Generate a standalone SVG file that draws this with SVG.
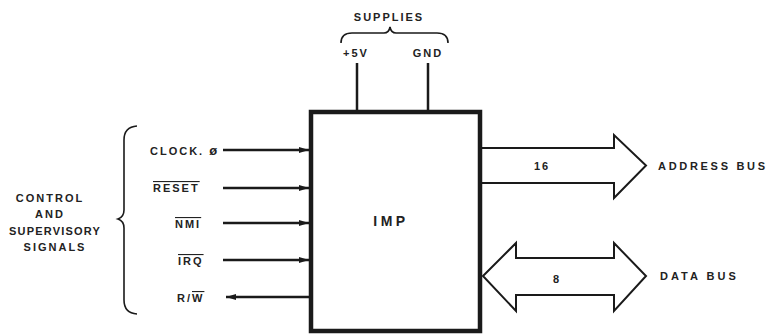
<svg xmlns="http://www.w3.org/2000/svg" width="772" height="335" viewBox="0 0 772 335">
<defs>
<marker id="ah" viewBox="0 0 10 6" refX="10" refY="3" markerWidth="10" markerHeight="6" markerUnits="userSpaceOnUse" orient="auto">
<path d="M0,0 L10,3 L0,6 Z" fill="#1a1a1a"/>
</marker>
</defs>
<style>
text{font-family:"Liberation Sans","DejaVu Sans",sans-serif;font-size:11px;font-weight:bold;fill:#222;letter-spacing:2px}
.ov{text-decoration:overline}
.sig{stroke:#1a1a1a;stroke-width:2.5;fill:none}
.thin{stroke:#1a1a1a;stroke-width:1.6;fill:none}
.bus{stroke:#1a1a1a;stroke-width:2;fill:#fff;stroke-linejoin:miter}
.box{stroke:#1a1a1a;stroke-width:4.5;fill:#fff}
</style>
<rect width="772" height="335" fill="#fff"/>
<g id="connectors">
<line class="sig" x1="223" y1="150" x2="309" y2="150" marker-end="url(#ah)"/>
<line class="sig" x1="223" y1="188" x2="309" y2="188" marker-end="url(#ah)"/>
<line class="sig" x1="223" y1="223" x2="309" y2="223" marker-end="url(#ah)"/>
<line class="sig" x1="223" y1="260" x2="309" y2="260" marker-end="url(#ah)"/>
<line class="sig" x1="309" y1="297" x2="226" y2="297" marker-end="url(#ah)"/>
<line class="sig" x1="357" y1="63" x2="357" y2="111"/>
<line class="sig" x1="428" y1="63" x2="428" y2="111"/>
<path id="address-bus" class="bus" d="M482,148 L614,148 L614,135 L646,165.5 L614,198 L614,183 L482,183"/>
<path id="data-bus" class="bus" d="M483,276 L516,243 L516,258 L614,258 L614,243 L646,276 L614,311 L614,295 L516,295 L516,311 Z"/>
</g>
<g id="imp">
<rect class="box" x="311" y="112" width="169" height="219"/>
<text x="391" y="226" text-anchor="middle" style="font-size:14px;letter-spacing:3.5px">IMP</text>
</g>
<g id="supplies">
<text x="389" y="21" text-anchor="middle">SUPPLIES</text>
<path class="thin" d="M341,43 Q341,33 352,33 L384,33 Q389,33 390,27 Q391,33 396,33 L437,33 Q448,33 448,43"/>
<text x="356" y="57" text-anchor="middle">+5V</text>
<text x="428" y="57" text-anchor="middle">GND</text>
</g>
<g id="signals">
<text x="150" y="155">CLOCK. <tspan style="font-size:13px">ø</tspan></text>
<text x="153" y="192" class="ov">RESET</text>
<text x="175" y="228" class="ov">NMI</text>
<text x="178" y="265" class="ov">IRQ</text>
<text x="177" y="302">R/<tspan class="ov">W</tspan></text>
<path class="thin" d="M137,126 Q124,127 124,140 L124,210 Q124,217 118,219 Q124,221 124,228 L124,300 Q124,313 137,314"/>
<text x="50" y="202" text-anchor="middle">CONTROL</text>
<text x="50" y="218" text-anchor="middle">AND</text>
<text x="55" y="235" text-anchor="middle" style="letter-spacing:1.2px">SUPERVISORY</text>
<text x="55" y="251" text-anchor="middle">SIGNALS</text>
</g>
<g id="labels">
<text x="542" y="170" text-anchor="middle">16</text>
<text x="557" y="283" text-anchor="middle">8</text>
<text x="658" y="170" style="letter-spacing:2.7px">ADDRESS BUS</text>
<text x="660" y="280" style="letter-spacing:3px">DATA BUS</text>
</g>
</svg>
